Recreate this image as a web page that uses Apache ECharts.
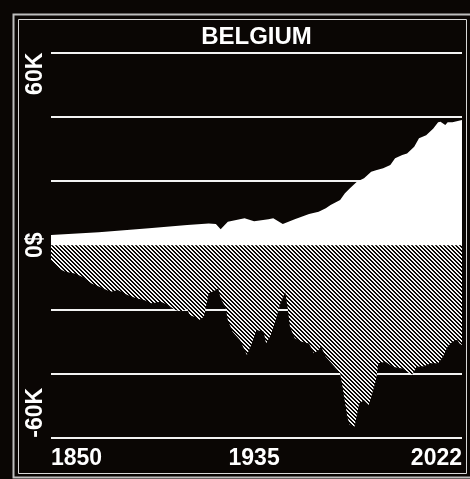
<!DOCTYPE html>
<html><head><meta charset="utf-8">
<script src="https://cdn.jsdelivr.net/npm/echarts@6/dist/echarts.min.js"></script>
<style>html,body{margin:0;padding:0;background:#0a0604;}#c{width:470px;height:479px;}</style>
</head><body><div id="c"></div>
<script>
const chartTitle = 'BELGIUM';
// white area (positive), thousands of $
const upperYears = [1850,1870,1891,1907,1916,1919,1921,1924,1931,1935,1941,1943,1947,1952,1958,1962,1965,1967,1971,1973,1975,1978,1981,1984,1986,1989,1992,1994,1997,1999,2002,2004,2007,2010,2012,2013,2015,2016,2018,2022];
const upperValues = [3.2,4.0,5.3,6.3,6.8,6.6,5.0,7.3,8.4,7.5,8.1,8.4,6.6,8.1,9.7,10.4,11.5,12.5,14.1,16.2,17.7,19.8,20.9,22.9,23.4,24.0,25.0,27.1,28.1,28.6,30.7,33.3,34.3,36.4,38.3,38.5,37.5,38.3,38.3,39.0];
// hatched area (negative), thousands of $
const lowerYears = [1850,1853,1856,1860,1863,1867,1870,1875,1878,1882,1886,1889,1892,1896,1899,1902,1905,1907,1908,1910,1912,1914,1916,1919,1920,1921,1923,1924,1926,1929,1932,1934,1936,1939,1940,1942,1944,1946,1948,1949,1950,1952,1955,1958,1960,1962,1963,1965,1968,1971,1972,1974,1975,1977,1979,1981,1983,1984,1986,1987,1990,1993,1997,1999,2001,2003,2006,2009,2012,2014,2016,2018,2020,2021,2022];
const lowerValues = [-4.6,-7.2,-8.3,-8.8,-9.8,-11.9,-12.9,-14.5,-14.0,-15.5,-16.6,-17.1,-18.1,-17.6,-18.6,-20.2,-20.7,-19.7,-21.8,-22.3,-23.3,-22.3,-15.0,-14.0,-13.4,-16.6,-19.2,-23.3,-27.0,-29.5,-34.2,-30.6,-26.4,-27.0,-30.6,-28.0,-23.3,-18.1,-14.5,-19.2,-25.4,-29.0,-30.1,-30.6,-33.7,-32.7,-31.6,-34.8,-37.3,-39.9,-44.1,-53.5,-56.0,-56.6,-49.3,-48.3,-49.8,-47.2,-42.0,-36.8,-36.3,-37.9,-38.4,-39.4,-40.5,-37.9,-37.7,-36.8,-36.8,-34.8,-31.6,-30.1,-29.5,-30.6,-31.1];
const xTickValues = [1850, 1935, 2022];
const xTickLabels = ['1850', '1935', '2022'];
const yTickValues = [-60, 0, 60];
const yTickLabels = ['-60K', '0$', '60K'];

function hatch() {
  const c = document.createElement('canvas'); c.width = 4; c.height = 4;
  const ctx = c.getContext('2d'); const img = ctx.createImageData(4, 4);
  for (let y = 0; y < 4; y++) for (let x = 0; x < 4; x++) {
    const i = (y * 4 + x) * 4; const w = ((x - y + 8) % 4) < 2;
    img.data[i] = w ? 245 : 10; img.data[i + 1] = w ? 245 : 6; img.data[i + 2] = w ? 245 : 4; img.data[i + 3] = 255;
  }
  ctx.putImageData(img, 0, 0); return c;
}
const FONT = '"Liberation Sans", Arial, sans-serif';
const chart = echarts.init(document.getElementById('c'), null, {renderer: 'canvas'});
chart.setOption({
  backgroundColor: '#0a0604',
  animation: false,
  graphic: [
    {type: 'rect', shape: {x: 13.5, y: 14.5, width: 470, height: 463}, style: {fill: 'none', stroke: '#bdbdbd', lineWidth: 2}, silent: true},
    {type: 'rect', shape: {x: 18.5, y: 19.5, width: 448, height: 454}, style: {fill: 'none', stroke: '#d8d8d8', lineWidth: 1}, silent: true},
    {type: 'text', x: 256.5, y: 25, style: {text: chartTitle, fill: '#fff', font: 'bold 24px ' + FONT, align: 'center', verticalAlign: 'top'}, silent: true}
  ],
  grid: {left: 51, right: 8, top: 52.7, bottom: 41.3},
  xAxis: {
    type: 'value', min: 1850, max: 2022,
    axisLine: {show: false}, axisTick: {show: false}, splitLine: {show: false},
    axisLabel: {
      customValues: xTickValues,
      formatter: v => { const i = xTickValues.indexOf(v); return i < 0 ? '' : xTickLabels[i]; },
      color: '#fff', fontFamily: FONT, fontWeight: 'bold', fontSize: 23, margin: 9,
      alignMinLabel: 'left', alignMaxLabel: 'right'
    }
  },
  yAxis: {
    type: 'value', min: -60, max: 60, interval: 20,
    axisLine: {show: false}, axisTick: {show: false},
    splitLine: {lineStyle: {color: '#f2f2f2', width: 2}},
    axisLabel: {
      rotate: 90,
      formatter: v => { const i = yTickValues.indexOf(v); return i < 0 ? '' : yTickLabels[i]; },
      color: '#fff', fontFamily: FONT, fontWeight: 'bold', fontSize: 23, margin: 4,
      align: 'center', verticalAlign: 'bottom',
      alignMinLabel: 'left', alignMaxLabel: 'right'
    }
  },
  series: [
    {type: 'line', data: upperYears.map((y, i) => [y, upperValues[i]]), showSymbol: false,
     lineStyle: {opacity: 0}, areaStyle: {color: '#ffffff', opacity: 1}, z: 3},
    {type: 'line', data: lowerYears.map((y, i) => [y, lowerValues[i]]), showSymbol: false,
     lineStyle: {opacity: 0}, areaStyle: {color: {image: hatch(), repeat: 'repeat'}, opacity: 1}, z: 3}
  ]
});
</script></body></html>
